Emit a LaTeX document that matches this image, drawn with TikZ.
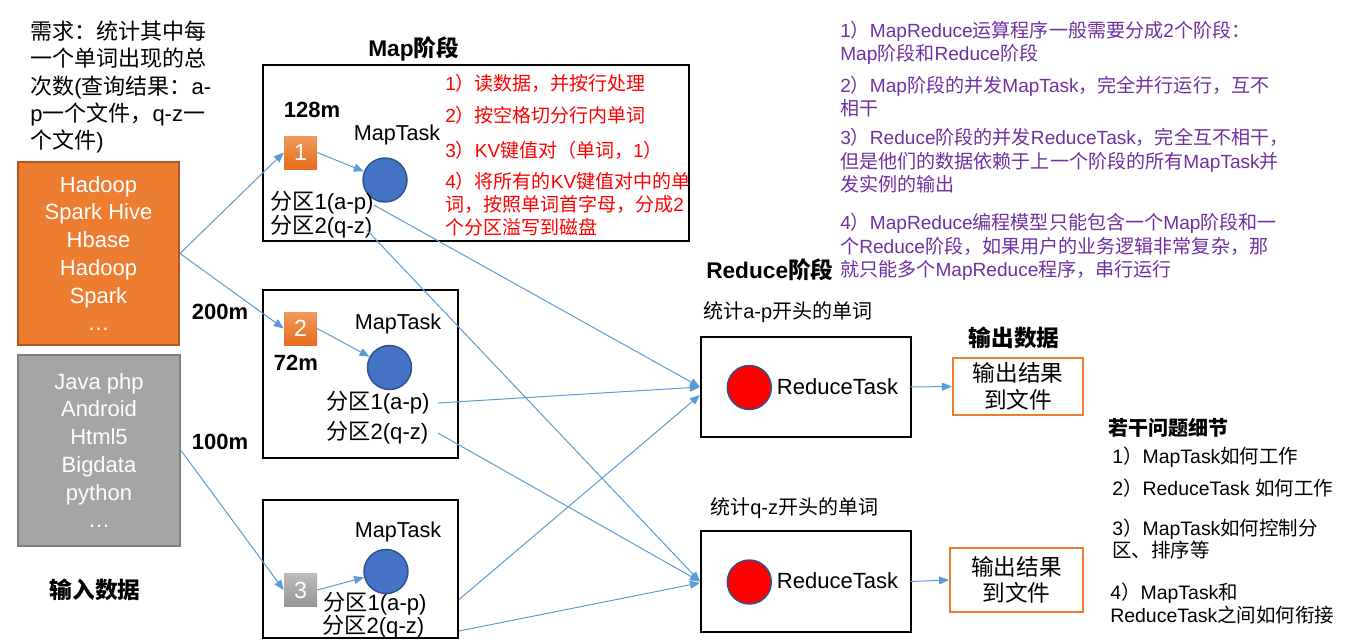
\documentclass[tikz,border=0pt]{standalone}
\usepackage{fontspec}
\setmainfont{Liberation Sans}
\newfontfamily\cjkf{Noto Sans CJK SC}
\XeTeXinterchartokenstate=1
\newXeTeXintercharclass\cjkclass
\newcount\cjkc
\def\cjkrange#1#2{\cjkc=#1\relax\loop\XeTeXcharclass\cjkc=\cjkclass\relax\ifnum\cjkc<#2\relax\advance\cjkc by 1\relax\repeat}
\cjkrange{"3000}{"303F}
\cjkrange{"4E00}{"9FFF}
\cjkrange{"FF00}{"FFEF}
\XeTeXinterchartoks 0 \cjkclass = {\cjkf}
\XeTeXinterchartoks 4095 \cjkclass = {\cjkf}
\XeTeXinterchartoks \cjkclass 0 = {\rmfamily}
\XeTeXinterchartoks 4095 0 = {\rmfamily}
\usetikzlibrary{arrows.meta}
\definecolor{corange}{HTML}{ED7D31}
\definecolor{corangeb}{HTML}{AE5A21}
\definecolor{csqtop}{HTML}{F29A5C}
\definecolor{csqbot}{HTML}{E46C1C}
\definecolor{cgrey}{HTML}{A5A5A5}
\definecolor{cgreyb}{HTML}{7F7F7F}
\definecolor{cblue}{HTML}{4472C4}
\definecolor{cblueb}{HTML}{2F528F}
\definecolor{cline}{HTML}{5B9BD5}
\definecolor{cpurple}{HTML}{7030A0}
\definecolor{credt}{HTML}{FF0000}
\tikzset{
  txt/.style={inner sep=0pt, font=\fontsize{16.5pt}{20.3pt}\selectfont, align=left},
  bt/.style={inner sep=0pt, font=\fontsize{16.5pt}{20pt}\selectfont\bfseries},
  redtxt/.style={inner sep=0pt, text=credt, align=left, font=\fontsize{14.25pt}{17.25pt}\selectfont},
  purtxt/.style={inner sep=0pt, text=cpurple, align=left, font=\fontsize{14.3pt}{17.6pt}\selectfont},
  listtxt/.style={inner sep=0pt, align=left, font=\fontsize{14.6pt}{16.8pt}\selectfont},
  part/.style={inner sep=0pt, font=\fontsize{16.6pt}{20pt}\selectfont},
  srcbox/.style={draw, line width=1.5pt, align=center, text=white, inner sep=0pt,
     font=\fontsize{16.5pt}{20.8pt}\selectfont},
  framebox/.style={draw=black, line width=1.6pt, inner sep=0pt},
  outbox/.style={draw=corange, line width=1.6pt, align=center, inner sep=0pt,
     font=\fontsize{17pt}{20pt}\selectfont},
  sqbox/.style={minimum size=24.75pt, inner sep=0pt, text=white,
     font=\fontsize{17.5pt}{20pt}\selectfont},
  task/.style={circle, draw=cblueb, line width=1.1pt, minimum size=33pt, inner sep=0pt},
  conn/.style={draw=cline, line width=0.75pt, -{Triangle[length=7.5pt,width=6pt]}},
}
\begin{document}
\begin{tikzpicture}[x=0.75pt,y=-0.75pt]
\useasboundingbox (0,0) rectangle (1346,643);

% requirement
\node[txt, anchor=west] (req) at (30,87) {需求：统计其中每\\一个单词出现的总\\次数(查询结果：a-\\p一个文件，q-z一\\个文件)};

% input boxes
\node[srcbox, fill=corange, draw=corangeb, minimum width=120.75pt, minimum height=137.25pt] (src1) at (98.5,253.5)
  {Hadoop\\Spark Hive\\Hbase\\Hadoop\\Spark\\…};
\node[srcbox, fill=cgrey, draw=cgreyb, minimum width=121.5pt, minimum height=143.25pt] (src2) at (99,450.5)
  {Java php\\Android\\Html5\\Bigdata\\python\\…};
\node[bt, font=\fontsize{17pt}{20pt}\selectfont\bfseries] (tin) at (95,590) {输入数据};

% map stage
\node[bt, font=\fontsize{17pt}{20pt}\selectfont\bfseries, anchor=west] (tmap) at (368,49) {Map阶段};
\node[framebox, minimum width=319.5pt, minimum height=132pt] (map1) at (476,153) {};
\node[framebox, minimum width=146.25pt, minimum height=126pt] (map2) at (360.5,374) {};
\node[framebox, minimum width=146.25pt, minimum height=103.5pt] (map3) at (360.5,569) {};

\node[bt] (s128) at (312,110) {128m};
\node[bt] (s200) at (220,312) {200m};
\node[bt] (s72) at (296,363) {72m};
\node[bt] (s100) at (220,442) {100m};

\node[sqbox, top color=csqtop, bottom color=csqbot] (sq1) at (300.5,152.5) {1};
\node[sqbox, top color=csqtop, bottom color=csqbot] (sq2) at (300.5,328.5) {2};
\node[sqbox, top color=cgrey!75!white, bottom color=cgrey!90!black] (sq3) at (300.5,590) {3};

\node[part, font=\fontsize{16.2pt}{20pt}\selectfont] (mt1) at (397,135) {MapTask};
\node[part, font=\fontsize{16.2pt}{20pt}\selectfont] (mt2) at (398,324) {MapTask};
\node[part, font=\fontsize{16.2pt}{20pt}\selectfont] (mt3) at (398,532) {MapTask};

\node[task, fill=cblue] (c1) at (385,180) {};
\node[task, fill=cblue] (c2) at (389.5,367.5) {};
\node[task, fill=cblue] (c3) at (386,571.5) {};

\node[part, anchor=west] (p11) at (270,203) {分区1(a-p)};
\node[part, anchor=west] (p12) at (270,226.5) {分区2(q-z)};
\node[part, anchor=west] (p21) at (326,403) {分区1(a-p)};
\node[part, anchor=west] (p22) at (326,433) {分区2(q-z)};
\node[part, anchor=west] (p31) at (323,603.5) {分区1(a-p)};
\node[part, anchor=west] (p32) at (322,627) {分区2(q-z)};

\node[redtxt, anchor=west] (r1t) at (445,83) {1）读数据，并按行处理};
\node[redtxt, anchor=west] (r2t) at (445,115) {2）按空格切分行内单词};
\node[redtxt, anchor=west] (r3t) at (445,150) {3）KV键值对（单词，1）};
\node[redtxt, anchor=west] (r4t) at (445,204) {4）将所有的KV键值对中的单\\词，按照单词首字母，分成2\\个分区溢写到磁盘};

% purple notes
\node[purtxt, anchor=west] (n1) at (840,43) {1）MapReduce运算程序一般需要分成2个阶段：\\Map阶段和Reduce阶段};
\node[purtxt, anchor=west] (n2) at (840,96.7) {2）Map阶段的并发MapTask，完全并行运行，互不\\相干};
\node[purtxt, anchor=west] (n3) at (840,161) {3）Reduce阶段的并发ReduceTask，完全互不相干，\\但是他们的数据依赖于上一个阶段的所有MapTask并\\发实例的输出};
\node[purtxt, anchor=west] (n4) at (840,247) {4）MapReduce编程模型只能包含一个Map阶段和一\\个Reduce阶段，如果用户的业务逻辑非常复杂，那\\就只能多个MapReduce程序，串行运行};

% reduce stage
\node[bt, font=\fontsize{17pt}{20pt}\selectfont\bfseries, anchor=west] (tred) at (706,270) {Reduce阶段};
\node[txt, font=\fontsize{15pt}{18pt}\selectfont, anchor=west] (lap) at (703,312) {统计a-p开头的单词};
\node[txt, font=\fontsize{15pt}{18pt}\selectfont, anchor=west] (lqz) at (710,508) {统计q-z开头的单词};
\node[framebox, minimum width=157.5pt, minimum height=75pt] (red1) at (806,387) {};
\node[framebox, minimum width=157.5pt, minimum height=75.75pt] (red2) at (806,581.5) {};
\node[task, fill=credt] (rc1) at (749.3,387.5) {};
\node[task, fill=credt] (rc2) at (749.3,582) {};
\node[part, font=\fontsize{16.5pt}{20pt}\selectfont] (rt1) at (837.5,387) {ReduceTask};
\node[part, font=\fontsize{16.5pt}{20pt}\selectfont] (rt2) at (837.5,581) {ReduceTask};

% output
\node[bt, font=\fontsize{17pt}{20pt}\selectfont\bfseries] (tout) at (1014,338) {输出数据};
\node[outbox, minimum width=97.5pt, minimum height=42.75pt] (o1) at (1018,386.5) {输出结果\\到文件};
\node[outbox, minimum width=99.75pt, minimum height=48pt] (o2) at (1016.5,580) {输出结果\\到文件};

% questions
\node[bt, font=\fontsize{15pt}{18pt}\selectfont\bfseries, anchor=west] (tq) at (1108,428) {若干问题细节};
\node[listtxt, anchor=west] (q1) at (1112,457) {1）MapTask如何工作};
\node[listtxt, anchor=west] (q2) at (1112,488) {2）ReduceTask 如何工作};
\node[listtxt, anchor=west] (q3) at (1112,539) {3）MapTask如何控制分\\区、排序等};
\node[listtxt, anchor=west, font=\fontsize{14.6pt}{17.25pt}\selectfont] (q4) at (1110,603.5) {4）MapTask和\\ReduceTask之间如何衔接};

% connectors
\draw[conn] (src1.east) -- (sq1.west);
\draw[conn] (src1.east) -- (sq2.west);
\draw[conn] (src2.east) -- (sq3.west);
\draw[conn] (sq1.east) -- (c1);
\draw[conn] (sq2.east) -- (c2);
\draw[conn] (sq3.east) -- (c3);
\draw[conn] ([yshift=-1.5pt]p11.east) -- (red1.west);
\draw[conn] ([yshift=-3pt,xshift=-4pt]p12.east) -- (red2.west);
\draw[conn] ([xshift=6pt]p21.east) -- (red1.west);
\draw[conn] ([xshift=7pt]p22.east) -- (red2.west);
\draw[conn] ([yshift=3pt]p31.east -| map3.east) -- ([yshift=-6pt]red1.west);
\draw[conn] ([yshift=-3pt]p32.east -| map3.east) -- ([yshift=-1pt]red2.west);
\draw[conn] ([xshift=-2pt]red1.east) -- (o1.west);
\draw[conn] ([xshift=-2pt]red2.east) -- (o2.west);
\end{tikzpicture}
\end{document}
